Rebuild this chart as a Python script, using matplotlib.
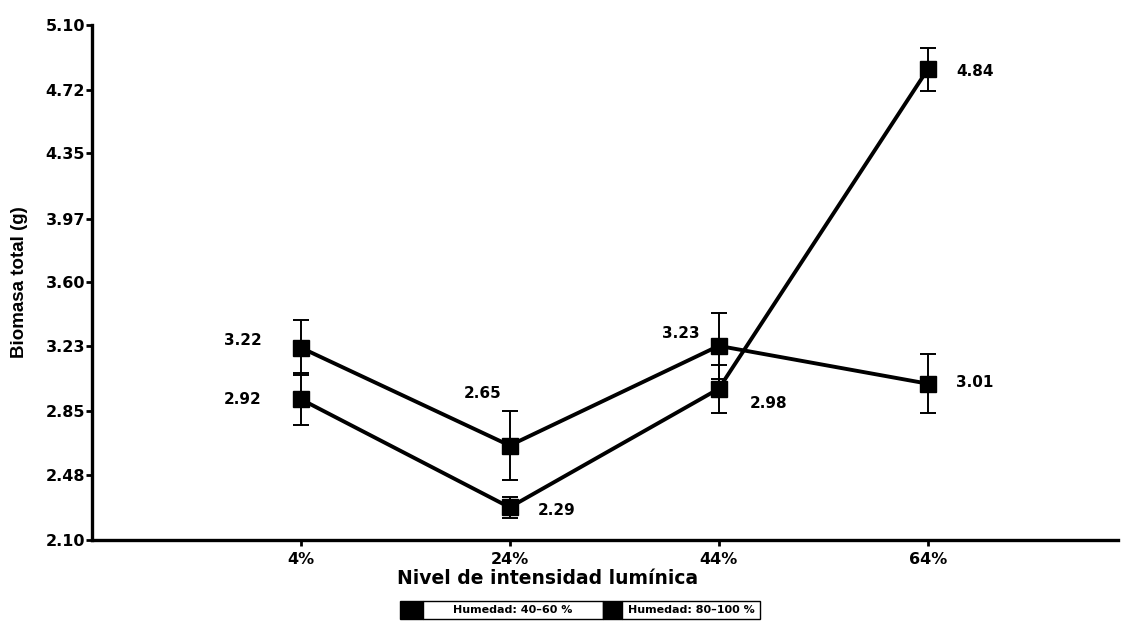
import matplotlib.pyplot as plt
from matplotlib.patches import Rectangle

plt.rcParams['font.family'] = ['DejaVu Sans']

niveles = ['4%', '24%', '44%', '64%']
humedad_baja = [3.22, 2.65, 3.23, 3.01]
error_baja = [0.16, 0.20, 0.19, 0.17]
humedad_alta = [2.92, 2.29, 2.98, 4.84]
error_alta = [0.15, 0.06, 0.14, 0.125]
y_ticks = [2.10, 2.48, 2.85, 3.23, 3.60, 3.97, 4.35, 4.72, 5.10]
leyenda = ['Humedad: 40\u201360 %', 'Humedad: 80\u2013100 %']

# label offsets in pixels for each point
off_baja = [(-58, 7), (-27, 52), (-38, 12), (47, 1)]
off_alta = [(-58, 0), (47, -3), (50, -15), (47, -2)]

fig = plt.figure(figsize=(11.32, 6.25), dpi=100)
ax = fig.add_axes([0.0813, 0.136, 0.9063, 0.8246])

x = list(range(len(niveles)))
for vals, errs, offs in [(humedad_baja, error_baja, off_baja),
                         (humedad_alta, error_alta, off_alta)]:
    ax.errorbar(x, vals, yerr=errs, color='black', lw=2.8, marker='s',
                markersize=11, elinewidth=1.4, capsize=6, capthick=1.4)
    for i in range(len(vals)):
        ax.annotate('%.2f' % vals[i], (x[i], vals[i]), xytext=offs[i],
                    textcoords='offset pixels', ha='center', va='center',
                    fontsize=11, fontweight='bold')

ax.set_xlim(-0.998, 3.91)
ax.set_ylim(2.10, 5.10)
ax.set_yticks(y_ticks)
ax.set_yticklabels(['%.2f' % v for v in y_ticks])
ax.set_xticks(x)
ax.set_xticklabels(niveles)
ax.spines['top'].set_visible(False)
ax.spines['right'].set_visible(False)
ax.spines['left'].set_linewidth(2.4)
ax.spines['bottom'].set_linewidth(2.4)
ax.tick_params(axis='both', direction='out', length=4, width=2,
               labelsize=11.5)
ax.tick_params(axis='x', pad=5)
ax.tick_params(axis='y', pad=1)
for lbl in ax.get_xticklabels() + ax.get_yticklabels():
    lbl.set_fontweight('bold')

ax.set_ylabel('Biomasa total (g)', fontsize=13.5, fontweight='bold',
              family='Liberation Sans')
ax.yaxis.set_label_coords(-0.062, 0.5)
fig.text(548 / 1132, 1 - 579 / 625, 'Nivel de intensidad lum\u00ednica',
         ha='center', va='center', fontsize=13.5, fontweight='bold')

# legend drawn as boxes below the x label
W, H = 1132.0, 625.0
y0, h = 1 - 619 / H, 18 / H
cajas = [(400, 423, 603), (603, 622, 760)]
for (xa, xb, xc), texto in zip(cajas, leyenda):
    fig.add_artist(Rectangle((xa / W, y0), (xb - xa) / W, h, facecolor='black',
                             edgecolor='black', lw=1, transform=fig.transFigure))
    fig.add_artist(Rectangle((xb / W, y0), (xc - xb) / W, h, facecolor='white',
                             edgecolor='black', lw=1, transform=fig.transFigure))
    fig.text((xb + xc) / 2 / W, y0 + h / 2, texto, ha='center', va='center',
             fontsize=8, fontweight='bold')

fig.savefig('out.png', dpi=100)
